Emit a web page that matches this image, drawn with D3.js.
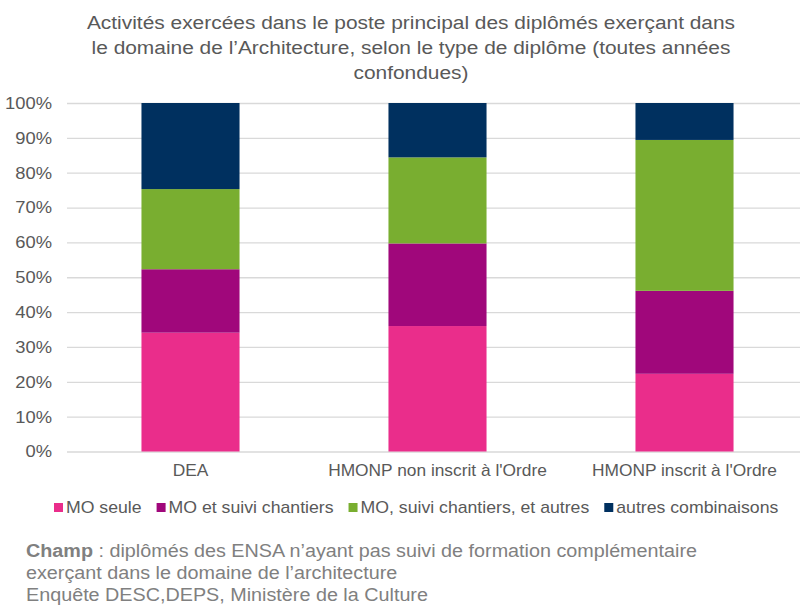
<!DOCTYPE html>
<html>
<head>
<meta charset="utf-8">
<script src="https://cdn.jsdelivr.net/npm/d3@7"></script>
<style>
    body { margin: 0; background: #fff; }
    svg { font-family: "Liberation Sans", Arial, sans-serif; }
</style>
</head>
<body>
<div id="chart"></div>
<script>
// Data
var categories = ["DEA", "HMONP non inscrit à l'Ordre", "HMONP inscrit à l'Ordre"];
var seriesNames = ["MO seule", "MO et suivi chantiers", "MO, suivi chantiers, et autres", "autres combinaisons"];
var moSeule = [34.1, 36.0, 22.3];
var moSuivi = [18.2, 23.7, 23.8];
var moSuiviAutres = [23.0, 24.7, 43.3];
var autresCombinaisons = [24.7, 15.6, 10.6];
var yTicks = [0, 10, 20, 30, 40, 50, 60, 70, 80, 90, 100];
var titleLines = [
    "Activités exercées dans le poste principal des diplômés exerçant dans",
    "le domaine de l’Architecture, selon le type de diplôme (toutes années",
    "confondues)"
];
var footerLines = [
    " : diplômés des ENSA n’ayant pas suivi de formation complémentaire",
    "exerçant dans le domaine de l’architecture",
    "Enquête DESC,DEPS, Ministère de la Culture"
];
var colors = ["#ea2d8b", "#a0077b", "#79ae30", "#00305f"];

var width = 800, height = 608;
var margin = { top: 103, bottom: 451.5, left: 67, right: 808 };

var svg = d3.select("#chart").append("svg")
    .attr("width", width)
    .attr("height", height);

// place a text at (x, y), stretched horizontally around its anchor
function place(sel, x, y, sx) {
    sel.attr("x", 0).attr("y", 0)
        .attr("transform", "translate(" + x + "," + y + ") scale(" + sx + ",1)");
    return sel;
}

// Title
titleLines.forEach(function (line, i) {
    place(svg.append("text"), 411, 28.5 + i * 25, 1.1)
        .attr("text-anchor", "middle")
        .attr("fill", "#595959")
        .style("font-size", "19px")
        .text(line);
});

// Scales
var x = d3.scaleBand()
    .domain(categories)
    .range([margin.left, margin.right])
    .paddingInner(0.603)
    .paddingOuter(0.3015);

var y = d3.scaleLinear()
    .domain([0, 100])
    .range([margin.bottom, margin.top]);

// Grid + y axis
var yAxis = svg.append("g")
    .attr("class", "axis--y")
    .attr("transform", "translate(" + margin.left + ",0)")
    .call(d3.axisLeft(y)
        .tickValues(yTicks)
        .tickFormat(function (d) { return d + "%"; })
        .tickSizeInner(-(width - margin.left))
        .tickSizeOuter(0)
        .tickPadding(15));
yAxis.select(".domain").remove();
yAxis.selectAll("line").attr("stroke", "#d9d9d9").attr("stroke-width", 1.3);
yAxis.selectAll("text")
    .attr("fill", "#595959")
    .style("font-size", "17px")
    .style("font-family", "'Liberation Sans', Arial, sans-serif")
    .attr("x", 0)
    .attr("transform", "translate(-15,0) scale(1.08,1)");

// Stack
var rows = categories.map(function (c, i) {
    return { cat: c, s0: moSeule[i], s1: moSuivi[i], s2: moSuiviAutres[i], s3: autresCombinaisons[i] };
});
var stack = d3.stack().keys(["s0", "s1", "s2", "s3"]);
var layers = stack(rows);

svg.append("g").selectAll("g")
    .data(layers)
    .enter()
    .append("g")
    .attr("fill", function (d, i) { return colors[i]; })
    .selectAll("rect")
    .data(function (d) { return d; })
    .enter()
    .append("rect")
    .attr("x", function (d) { return x(d.data.cat); })
    .attr("width", x.bandwidth())
    .attr("y", function (d) { return y(d[1]); })
    .attr("height", function (d) { return y(d[0]) - y(d[1]); });

// X axis labels
var xAxis = svg.append("g")
    .attr("class", "axis--x")
    .attr("transform", "translate(0," + margin.bottom + ")")
    .call(d3.axisBottom(x).tickSize(0).tickPadding(12));
xAxis.select(".domain").remove();
xAxis.selectAll("text")
    .attr("fill", "#595959")
    .style("font-size", "17px")
    .style("font-family", "'Liberation Sans', Arial, sans-serif")
    .attr("transform", "scale(1.02,1)");

// Legend
var legend = svg.append("g").attr("class", "legend");
var lx = 54, legendSx = 1.04;
seriesNames.forEach(function (name, i) {
    legend.append("rect")
        .attr("x", lx)
        .attr("y", 503)
        .attr("width", 9)
        .attr("height", 9)
        .attr("fill", colors[i]);
    var t = place(legend.append("text"), lx + 12, 513, legendSx)
        .attr("fill", "#595959")
        .style("font-size", "17px")
        .text(name);
    lx += 12 + t.node().getComputedTextLength() * legendSx + 15;
});

// Footer
var footer = svg.append("g").attr("fill", "#808080").style("font-size", "17.5px");
footerLines.forEach(function (line, i) {
    var t = place(footer.append("text"), 26, 557 + i * 22, 1.13);
    if (i === 0) {
        t.append("tspan").style("font-weight", "bold").text("Champ");
    }
    t.append("tspan").text(line);
});
</script>
</body>
</html>
